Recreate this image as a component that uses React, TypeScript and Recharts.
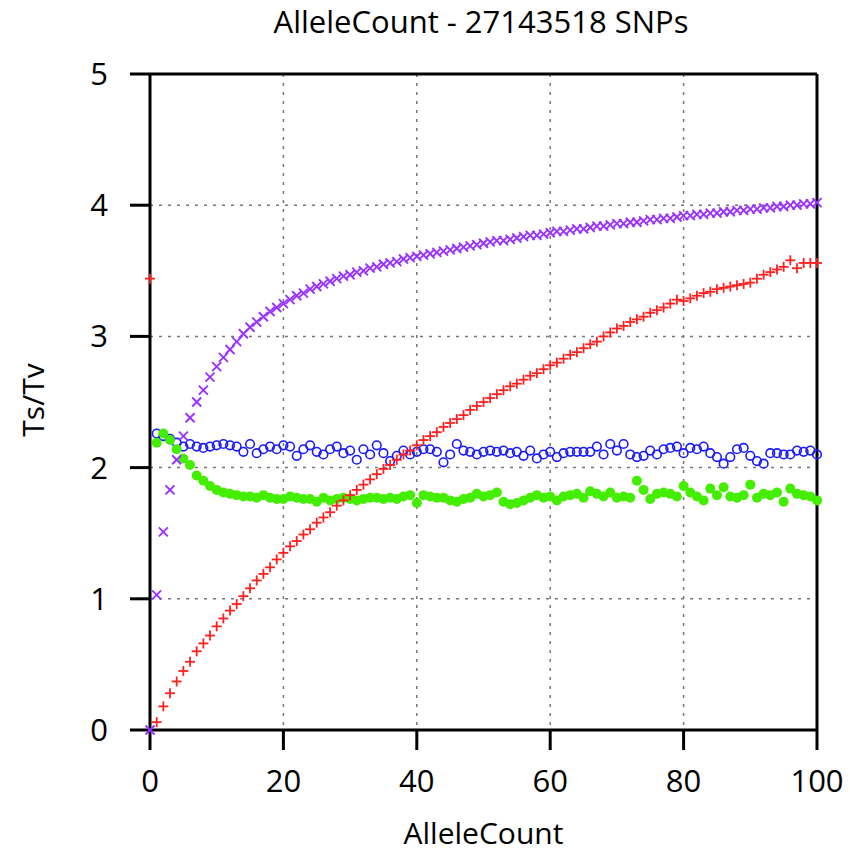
import React from "react";
import {
  ScatterChart,
  Scatter,
  XAxis,
  YAxis,
  CartesianGrid,
  ReferenceLine,
} from "recharts";

// Ts/Tv by allele count; index in each array = AlleleCount (0..100)
const redRatios = [
  3.44, 0.06, 0.18, 0.28, 0.37, 0.45, 0.52, 0.6, 0.66, 0.72, 0.79,
  0.85, 0.91, 0.96, 1.02, 1.08, 1.14, 1.19, 1.24, 1.3, 1.35,
  1.4, 1.44, 1.49, 1.53, 1.58, 1.62, 1.66, 1.71, 1.75, 1.79,
  1.83, 1.87, 1.91, 1.95, 1.99, 2.02, 2.06, 2.1, 2.13, 2.17,
  2.21, 2.24, 2.27, 2.31, 2.34, 2.37, 2.4, 2.44, 2.47, 2.5,
  2.53, 2.56, 2.59, 2.62, 2.64, 2.67, 2.7, 2.72, 2.75, 2.78,
  2.8, 2.83, 2.86, 2.88, 2.91, 2.94, 2.96, 3.0, 3.03, 3.06,
  3.08, 3.11, 3.13, 3.15, 3.18, 3.2, 3.22, 3.25, 3.28, 3.27,
  3.29, 3.31, 3.33, 3.34, 3.36, 3.37, 3.38, 3.39, 3.4, 3.41,
  3.44, 3.47, 3.49, 3.51, 3.53, 3.58, 3.52, 3.56, 3.56, 3.56,
];

const purpleRatios = [
  0.0, 1.03, 1.51, 1.83, 2.06, 2.24, 2.38, 2.5, 2.59, 2.69, 2.77,
  2.84, 2.9, 2.96, 3.02, 3.07, 3.11, 3.15, 3.19, 3.22, 3.25,
  3.28, 3.31, 3.33, 3.36, 3.38, 3.4, 3.42, 3.44, 3.46, 3.47,
  3.49, 3.5, 3.52, 3.53, 3.55, 3.56, 3.57, 3.59, 3.6, 3.61,
  3.62, 3.63, 3.64, 3.65, 3.66, 3.67, 3.68, 3.69, 3.7, 3.71,
  3.72, 3.73, 3.73, 3.74, 3.75, 3.76, 3.77, 3.77, 3.78, 3.79,
  3.8, 3.8, 3.81, 3.82, 3.82, 3.83, 3.84, 3.84, 3.85, 3.86,
  3.86, 3.87, 3.87, 3.88, 3.89, 3.89, 3.9, 3.9, 3.91, 3.92,
  3.92, 3.93, 3.93, 3.94, 3.94, 3.95, 3.95, 3.96, 3.96, 3.97,
  3.97, 3.98, 3.98, 3.99, 3.99, 4.0, 4.0, 4.01, 4.01, 4.02,
];

const blueRatios = [
  null, 2.26, 2.24, 2.22, 2.19, 2.16, 2.18, 2.16, 2.15, 2.16, 2.17,
  2.18, 2.17, 2.16, 2.12, 2.18, 2.11, 2.14, 2.16, 2.14, 2.17,
  2.16, 2.09, 2.14, 2.17, 2.12, 2.1, 2.14, 2.16, 2.11, 2.13,
  2.06, 2.14, 2.1, 2.17, 2.11, 2.05, 2.09, 2.13, 2.1, 2.12,
  2.14, 2.14, 2.12, 2.04, 2.1, 2.18, 2.13, 2.12, 2.1, 2.12,
  2.13, 2.12, 2.13, 2.11, 2.12, 2.09, 2.13, 2.07, 2.1, 2.12,
  2.08, 2.11, 2.12, 2.12, 2.12, 2.12, 2.16, 2.1, 2.18, 2.13,
  2.18, 2.1, 2.08, 2.09, 2.13, 2.1, 2.14, 2.15, 2.16, 2.11,
  2.15, 2.14, 2.16, 2.11, 2.08, 2.03, 2.08, 2.14, 2.15, 2.09,
  2.05, 2.03, 2.11, 2.11, 2.1, 2.1, 2.13, 2.12, 2.13, 2.1,
];

const greenRatios = [
  null, 2.19, 2.26, 2.21, 2.14, 2.07, 2.02, 1.94, 1.9, 1.86, 1.83,
  1.81, 1.8, 1.79, 1.78, 1.78, 1.77, 1.79, 1.77, 1.76, 1.76,
  1.78, 1.77, 1.76, 1.76, 1.74, 1.77, 1.75, 1.76, 1.77, 1.76,
  1.75, 1.76, 1.77, 1.77, 1.76, 1.77, 1.76, 1.78, 1.79, 1.73,
  1.79, 1.78, 1.77, 1.77, 1.75, 1.74, 1.76, 1.77, 1.8, 1.78,
  1.79, 1.81, 1.74, 1.72, 1.73, 1.75, 1.77, 1.79, 1.77, 1.78,
  1.75, 1.78, 1.79, 1.8, 1.77, 1.82, 1.8, 1.78, 1.81, 1.77,
  1.78, 1.77, 1.9, 1.83, 1.76, 1.8, 1.81, 1.8, 1.78, 1.86,
  1.81, 1.78, 1.75, 1.84, 1.79, 1.85, 1.78, 1.77, 1.79, 1.87,
  1.77, 1.8, 1.79, 1.81, 1.74, 1.84, 1.8, 1.79, 1.78, 1.75,
];

const xTicks = [0, 20, 40, 60, 80, 100];
const yTicks = [0, 1, 2, 3, 4, 5];

const FONT = "'Open Sans', sans-serif";

const toPoints = (values: (number | null)[]) =>
  values
    .map((y, x) => ({ x, y }))
    .filter((p) => p.y !== null);

const PlusMark = (props: any) => {
  const { cx, cy } = props;
  const s = 5;
  return (
    <g stroke="#ff2020" strokeWidth={1.8}>
      <line x1={cx - s} y1={cy} x2={cx + s} y2={cy} />
      <line x1={cx} y1={cy - s} x2={cx} y2={cy + s} />
    </g>
  );
};

const CrossMark = (props: any) => {
  const { cx, cy } = props;
  const s = 4.5;
  return (
    <g stroke="#9933ff" strokeWidth={1.9}>
      <line x1={cx - s} y1={cy - s} x2={cx + s} y2={cy + s} />
      <line x1={cx - s} y1={cy + s} x2={cx + s} y2={cy - s} />
    </g>
  );
};

const OpenCircle = (props: any) => (
  <circle cx={props.cx} cy={props.cy} r={4.3} fill="none" stroke="#1a1aff" strokeWidth={1.6} />
);

const FilledCircle = (props: any) => (
  <circle cx={props.cx} cy={props.cy} r={5} fill="#44ee00" />
);

const YLabel = () => (
  <text
    x={32}
    y={400}
    transform="rotate(-90 32 400)"
    textAnchor="middle"
    dominantBaseline="central"
    fontFamily={FONT}
    fontSize={30}
    fill="#000"
  >
    Ts/Tv
  </text>
);

const axisStroke = { stroke: "#000", strokeWidth: 3 };
const tickStyle = { fill: "#000", fontSize: 31, fontFamily: FONT };

export default function App() {
  return (
    <div style={{ position: "absolute", left: 0, top: 0, width: 850, height: 856, background: "#fff" }}>
      <div
        style={{
          position: "absolute",
          top: 0,
          left: 481,
          transform: "translateX(-50%)",
          whiteSpace: "nowrap",
          fontFamily: FONT,
          fontSize: 31,
          color: "#000",
        }}
      >
        AlleleCount - 27143518 SNPs
      </div>
      <ScatterChart width={850} height={856} margin={{ top: 74, right: 0, bottom: 0, left: 0 }}>
        <CartesianGrid stroke="#777" strokeDasharray="3 6" strokeWidth={1.5} />
        <XAxis
          type="number"
          dataKey="x"
          domain={[0, 100]}
          ticks={xTicks}
          height={126}
          tickSize={20}
          tickMargin={20}
          axisLine={axisStroke}
          tickLine={axisStroke}
          tick={tickStyle}
          label={{
            value: "AlleleCount",
            position: "insideBottom",
            offset: 12,
            style: { fontFamily: FONT, fontSize: 30, fill: "#000" },
          }}
        />
        <YAxis
          type="number"
          dataKey="y"
          domain={[0, 5]}
          ticks={yTicks}
          width={150}
          tickSize={20}
          tickMargin={22}
          axisLine={axisStroke}
          tickLine={axisStroke}
          tick={tickStyle}
          label={{ content: () => <YLabel /> }}
        />
        <YAxis
          yAxisId="right"
          orientation="right"
          type="number"
          domain={[0, 5]}
          ticks={yTicks}
          width={33}
          tickSize={18}
          axisLine={axisStroke}
          tickLine={axisStroke}
          tick={false}
        />
        <ReferenceLine y={5} stroke="#000" strokeWidth={3} />
        <Scatter data={toPoints(blueRatios)} shape={OpenCircle} isAnimationActive={false} />
        <Scatter data={toPoints(greenRatios)} shape={FilledCircle} isAnimationActive={false} />
        <Scatter data={toPoints(purpleRatios)} shape={CrossMark} isAnimationActive={false} />
        <Scatter data={toPoints(redRatios)} shape={PlusMark} isAnimationActive={false} />
      </ScatterChart>
    </div>
  );
}
